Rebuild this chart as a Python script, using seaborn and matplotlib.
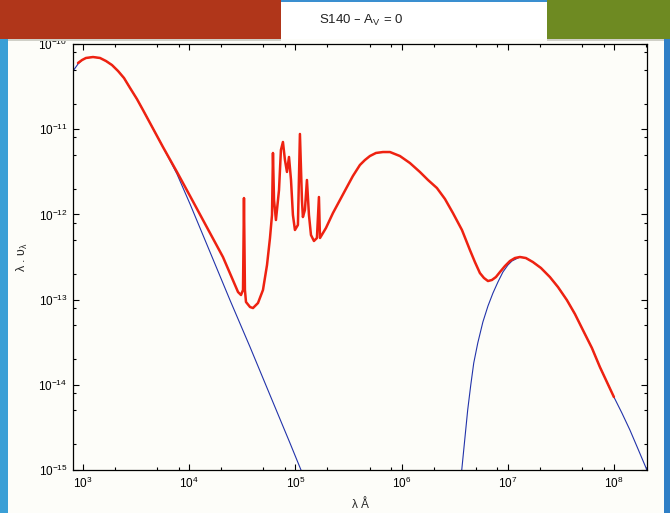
import matplotlib
matplotlib.use("Agg")
import matplotlib.pyplot as plt
import matplotlib.ticker as mticker
from matplotlib.patches import Rectangle
import numpy as np
import pandas as pd
import seaborn as sns

# values, as log10(lambda [A]) and log10(lambda . F_lambda)
sed_log_lam = [2.953, 2.991, 3.028, 3.094, 3.160, 3.217, 3.273, 3.330, 3.386, 3.443,
               3.508, 3.565, 3.631, 3.753, 3.885,
               4.008, 4.130, 4.318, 4.460, 4.488, 4.507, 4.516, 4.525, 4.535, 4.573,
               4.601, 4.648, 4.695, 4.733, 4.761, 4.780, 4.789, 4.799, 4.817, 4.846,
               4.864, 4.883, 4.902, 4.921, 4.940, 4.959, 4.977, 4.996, 5.024, 5.043,
               5.062, 5.071, 5.090, 5.109, 5.128, 5.147, 5.175, 5.203, 5.222, 5.232,
               5.288, 5.354, 5.420, 5.486, 5.542, 5.608, 5.655, 5.702, 5.759, 5.825,
               5.891, 5.985, 6.079, 6.173, 6.249, 6.333, 6.409, 6.484, 6.569, 6.644,
               6.691, 6.738, 6.776, 6.814, 6.851, 6.889, 6.927, 6.974, 7.021, 7.068,
               7.115, 7.171, 7.237, 7.313, 7.397, 7.473, 7.557, 7.633, 7.708, 7.793,
               7.868, 7.934, 8.000]
sed_log_flux = [-10.223, -10.188, -10.164, -10.153, -10.164, -10.200, -10.247, -10.317, -10.399, -10.516,
                -10.646, -10.775, -10.927, -11.209, -11.502,
                -11.784, -12.066, -12.500, -12.911, -12.946, -12.887, -11.808, -12.887, -13.028, -13.087,
                -13.099, -13.040, -12.887, -12.594, -12.277, -12.007, -11.279, -11.831, -12.066, -11.714,
                -11.244, -11.150, -11.362, -11.502, -11.326, -11.596, -12.007, -12.183, -12.124, -11.056,
                -11.831, -12.031, -11.948, -11.596, -12.007, -12.242, -12.312, -12.277, -11.796, -12.277,
                -12.160, -11.984, -11.831, -11.678, -11.549, -11.420, -11.362, -11.315, -11.279, -11.268,
                -11.268, -11.315, -11.397, -11.502, -11.596, -11.690, -11.819, -11.984, -12.183, -12.418,
                -12.559, -12.688, -12.746, -12.782, -12.770, -12.735, -12.676, -12.606, -12.547, -12.512,
                -12.500, -12.512, -12.559, -12.629, -12.735, -12.852, -13.005, -13.169, -13.357, -13.568,
                -13.791, -13.967, -14.143]

star_log_lam = [2.906, 2.953, 2.991, 3.028, 3.094, 3.160, 3.217, 3.273, 3.330, 3.386,
                3.443, 3.508, 3.565, 3.631, 3.753, 3.885, 4.008, 4.196, 4.384, 4.573,
                4.761, 4.949, 5.053]
star_log_flux = [-10.317, -10.235, -10.188, -10.164, -10.153, -10.164, -10.200, -10.247, -10.317, -10.399,
                 -10.516, -10.646, -10.775, -10.927, -11.209, -11.526, -11.878, -12.441, -13.005, -13.556,
                 -14.120, -14.683, -15.000]

dust_log_lam = [6.567, 6.595, 6.623, 6.652, 6.680, 6.718, 6.766, 6.814, 6.861, 6.908,
                6.955, 7.002, 7.040, 7.115, 7.171, 7.237, 7.313, 7.397, 7.473, 7.557,
                7.633, 7.708, 7.793, 7.868, 7.934, 8.000, 8.075, 8.151, 8.226, 8.311]
dust_log_flux = [-15.000, -14.648, -14.296, -14.002, -13.744, -13.509, -13.263, -13.075, -12.923, -12.793,
                 -12.676, -12.594, -12.547, -12.500, -12.512, -12.559, -12.629, -12.735, -12.852, -13.005,
                 -13.169, -13.357, -13.568, -13.791, -13.967, -14.143, -14.330, -14.531, -14.750, -15.000]

x_ticks = [1e3, 1e4, 1e5, 1e6, 1e7, 1e8]
y_ticks = [1e-15, 1e-14, 1e-13, 1e-12, 1e-11, 1e-10]

sed = pd.DataFrame({"lam": np.power(10.0, sed_log_lam), "flux": np.power(10.0, sed_log_flux)})
star = pd.DataFrame({"lam": np.power(10.0, star_log_lam), "flux": np.power(10.0, star_log_flux)})
dust = pd.DataFrame({"lam": np.power(10.0, dust_log_lam), "flux": np.power(10.0, dust_log_flux)})

sns.set_theme(style="ticks")
plt.rcParams['font.family'] = ['Liberation Sans', 'DejaVu Sans']
plt.rcParams['mathtext.default'] = 'regular'

W, H = 670, 513
bg = "#fdfdf9"
fig = plt.figure(figsize=(W / 100, H / 100), dpi=100, facecolor=bg)
ax = fig.add_axes([73 / W, 1 - 470 / H, 574 / W, 426 / H], facecolor=bg)

blue = "#2233aa"
red = "#ee2211"
sns.lineplot(data=star, x="lam", y="flux", sort=False, estimator=None, color=blue, lw=0.8, ax=ax)
sns.lineplot(data=dust, x="lam", y="flux", sort=False, estimator=None, color=blue, lw=0.8, ax=ax)
sns.lineplot(data=sed, x="lam", y="flux", sort=False, estimator=None, color=red, lw=1.8, ax=ax)

ax.set_xscale("log")
ax.set_yscale("log")
ax.set_xlim(805, 2.05e8)
ax.set_ylim(1e-15, 1e-10)
ax.set_xticks(x_ticks)
ax.set_yticks(y_ticks)
for a in (ax.xaxis, ax.yaxis):
    a.set_minor_locator(mticker.LogLocator(base=10, subs=(2, 5, 8)))
    a.set_minor_formatter(mticker.NullFormatter())
ax.tick_params(which="both", direction="in", top=True, right=True, colors="black",
               labelsize=8.5, width=0.8, pad=4)
ax.tick_params(which="major", length=4.5)
ax.tick_params(which="minor", length=2.5)
for s in ax.spines.values():
    s.set_color("black")
    s.set_linewidth(0.9)

ax.set_xlabel("λ Å", fontsize=8.5, labelpad=6)
ax.set_ylabel("λ . υ$_λ$", fontsize=9, labelpad=6)

# slide decoration
def px_rect(x0, y0, x1, y1, color, z=5):
    fig.add_artist(Rectangle((x0 / W, 1 - y1 / H), (x1 - x0) / W, (y1 - y0) / H,
                             transform=fig.transFigure, color=color, zorder=z, lw=0))

px_rect(0, 0, 8, H, "#3a9fd6")
px_rect(664, 39, W, H, "#2f7fc6")
px_rect(281, 0, 547, 39, "white", z=4)
px_rect(281, 0, 547, 1.5, "#3a8fd0", z=6)
px_rect(0, 39, 281, 40.5, "#d0d0c8", z=4)
px_rect(547, 39, W, 40.5, "#d0d0c8", z=4)
px_rect(0, 0, 281, 39, "#b0361a")
px_rect(547, 0, W, 39, "#6e8a22")

fig.text(361 / W, 1 - 20 / H, "S140 – A$_V$ = 0", ha="center", va="center",
         fontsize=9.5, color="#222222", zorder=7)

fig.savefig("out.png", dpi=100, facecolor=bg)
